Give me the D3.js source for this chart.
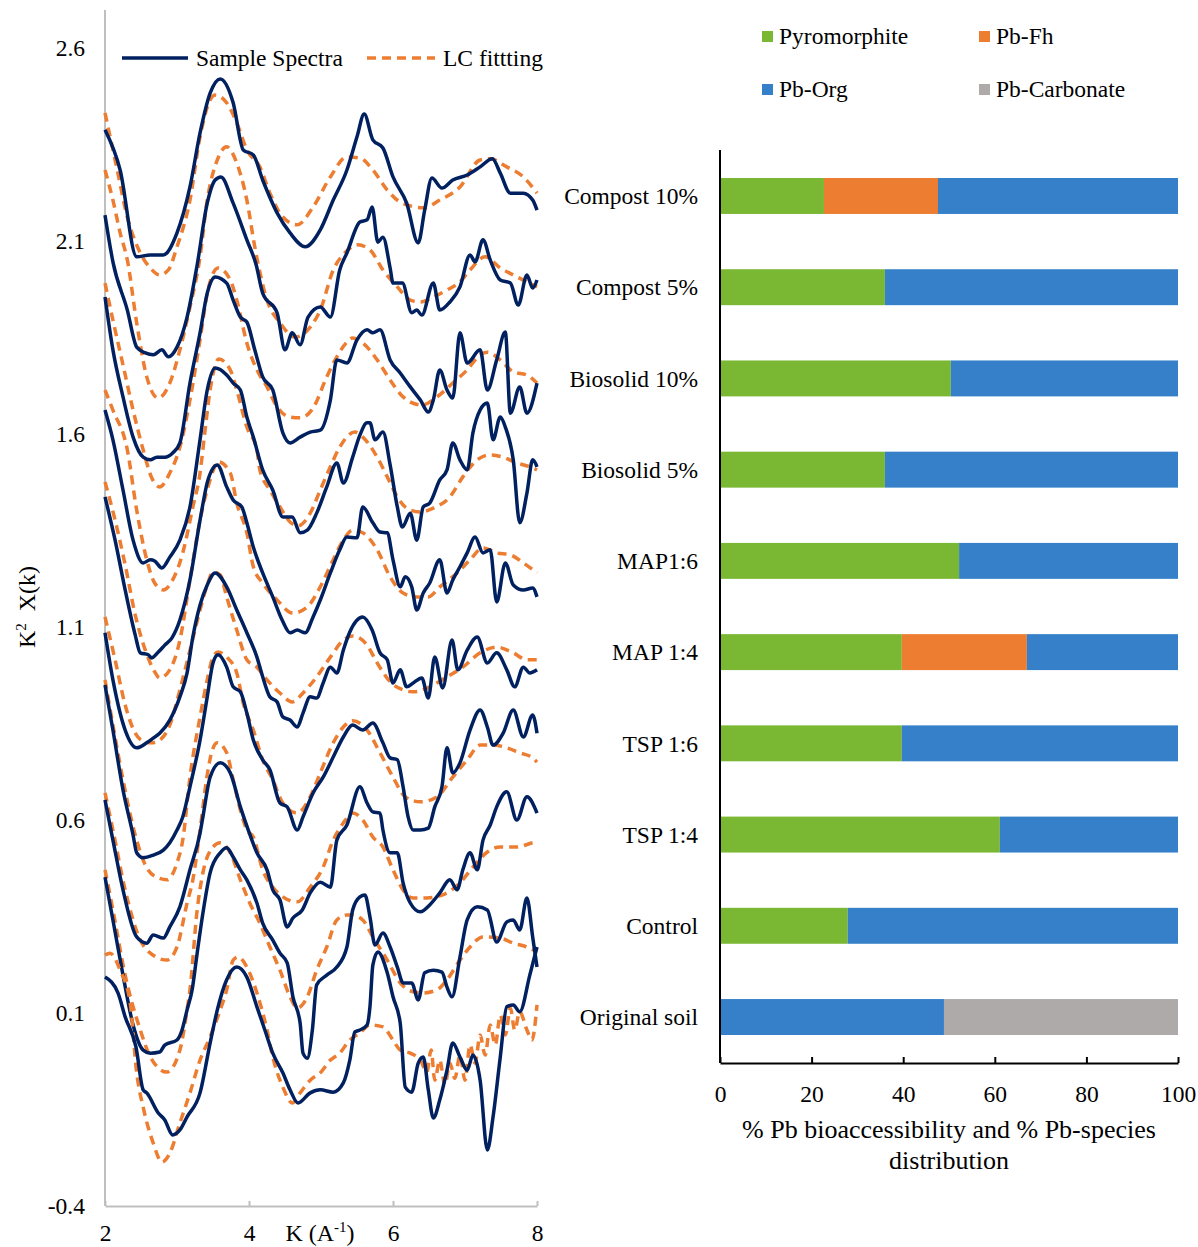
<!DOCTYPE html>
<html>
<head>
<meta charset="utf-8">
<script src="https://cdn.jsdelivr.net/npm/d3@7"></script>
<style>
  body { margin: 0; background: #fff; }
  text { font-family: "Liberation Serif", "Times New Roman", serif; fill: #000; }
</style>
</head>
<body>
<svg id="chart" width="1198" height="1247"></svg>
<script>
// ---- left panel: EXAFS spectra [k, k2chi], top pair first ----
let s1 = [[2.00,2.388],[2.21,2.284],[2.44,2.059],[2.63,2.064],[2.81,2.064],[3.00,2.121],[3.18,2.240],[3.32,2.380],[3.46,2.483],[3.60,2.520],[3.78,2.458],[3.92,2.336],[4.06,2.323],[4.19,2.258],[4.39,2.173],[4.57,2.121],[4.78,2.085],[4.99,2.129],[5.17,2.206],[5.36,2.284],[5.50,2.370],[5.60,2.429],[5.72,2.362],[5.86,2.341],[6.00,2.266],[6.19,2.198],[6.35,2.095],[6.44,2.180],[6.54,2.263],[6.68,2.237],[6.83,2.258],[7.03,2.271],[7.21,2.292],[7.38,2.313],[7.49,2.276],[7.63,2.224],[7.81,2.224],[7.94,2.206],[8.00,2.180]]
let f1 = [[2.00,2.432],[2.17,2.284],[2.31,2.162],[2.49,2.069],[2.63,2.030],[2.76,2.012],[2.88,2.025],[3.00,2.085],[3.18,2.206],[3.32,2.370],[3.46,2.465],[3.53,2.478],[3.69,2.458],[3.83,2.406],[3.97,2.336],[4.15,2.292],[4.29,2.224],[4.47,2.162],[4.67,2.142],[4.89,2.188],[5.13,2.266],[5.36,2.318],[5.54,2.315],[5.72,2.284],[5.92,2.232],[6.10,2.201],[6.42,2.186],[6.65,2.206],[6.93,2.240],[7.21,2.310],[7.35,2.313],[7.58,2.292],[7.81,2.266],[8.00,2.224]]
let s2 = [[2.00,2.167],[2.11,2.046],[2.31,1.921],[2.44,1.825],[2.56,1.810],[2.67,1.805],[2.79,1.818],[2.88,1.800],[3.00,1.825],[3.14,1.903],[3.28,2.038],[3.42,2.198],[3.53,2.258],[3.61,2.266],[3.78,2.198],[3.97,2.103],[4.10,2.038],[4.19,1.965],[4.39,1.914],[4.50,1.818],[4.60,1.862],[4.71,1.831],[4.82,1.903],[4.99,1.929],[5.13,1.903],[5.26,2.025],[5.36,2.069],[5.54,2.149],[5.64,2.155],[5.71,2.188],[5.79,2.097],[5.86,2.110],[5.96,2.030],[6.00,1.991],[6.13,1.991],[6.26,1.914],[6.33,1.921],[6.40,1.908],[6.56,1.991],[6.65,1.921],[6.79,1.942],[6.93,1.981],[7.07,2.064],[7.14,2.046],[7.25,2.103],[7.35,2.051],[7.49,1.999],[7.63,1.991],[7.74,1.934],[7.86,2.012],[7.94,1.978],[8.00,1.999]]
let f2 = [[2.00,2.284],[2.11,2.206],[2.21,2.121],[2.31,2.051],[2.44,1.888],[2.58,1.748],[2.74,1.693],[2.90,1.732],[3.04,1.818],[3.18,1.929],[3.32,2.059],[3.42,2.206],[3.56,2.310],[3.69,2.344],[3.83,2.302],[3.97,2.206],[4.08,2.085],[4.25,1.947],[4.43,1.888],[4.64,1.851],[4.85,1.877],[4.99,1.921],[5.17,2.025],[5.33,2.069],[5.51,2.090],[5.68,2.077],[5.86,2.025],[6.06,1.981],[6.24,1.947],[6.38,1.942],[6.56,1.955],[6.75,1.973],[6.93,1.994],[7.07,2.025],[7.28,2.059],[7.49,2.030],[7.67,2.012],[7.86,1.994],[8.00,1.981]]
let s3 = [[2.00,1.955],[2.11,1.818],[2.25,1.696],[2.39,1.592],[2.53,1.540],[2.63,1.533],[2.72,1.540],[2.83,1.540],[2.94,1.551],[3.04,1.577],[3.18,1.732],[3.32,1.862],[3.42,1.965],[3.53,2.007],[3.69,1.991],[3.78,1.947],[3.88,1.903],[3.97,1.890],[4.08,1.818],[4.19,1.748],[4.33,1.714],[4.47,1.603],[4.57,1.577],[4.71,1.592],[4.85,1.605],[4.99,1.610],[5.13,1.688],[5.22,1.792],[5.36,1.784],[5.50,1.844],[5.64,1.870],[5.72,1.862],[5.82,1.870],[5.96,1.792],[6.10,1.758],[6.24,1.722],[6.38,1.688],[6.49,1.657],[6.56,1.688],[6.65,1.766],[6.75,1.714],[6.83,1.693],[6.93,1.862],[7.03,1.784],[7.21,1.818],[7.31,1.714],[7.44,1.792],[7.56,1.864],[7.63,1.654],[7.76,1.722],[7.86,1.654],[8.00,1.732]]
let f3 = [[2.00,1.991],[2.11,1.895],[2.25,1.779],[2.39,1.662],[2.53,1.559],[2.65,1.486],[2.76,1.463],[2.90,1.499],[3.04,1.566],[3.18,1.688],[3.32,1.844],[3.43,1.973],[3.57,2.030],[3.74,1.999],[3.83,1.947],[3.97,1.836],[4.11,1.766],[4.25,1.722],[4.39,1.670],[4.57,1.644],[4.71,1.642],[4.89,1.667],[5.08,1.748],[5.22,1.800],[5.36,1.838],[5.44,1.849],[5.58,1.836],[5.78,1.792],[5.96,1.740],[6.14,1.696],[6.40,1.675],[6.61,1.696],[6.83,1.732],[7.03,1.766],[7.21,1.805],[7.31,1.812],[7.49,1.792],[7.67,1.761],[7.86,1.753],[8.00,1.732]]
let s4 = [[2.00,1.662],[2.11,1.585],[2.25,1.455],[2.39,1.325],[2.53,1.266],[2.63,1.274],[2.69,1.271],[2.79,1.253],[2.90,1.281],[3.04,1.325],[3.18,1.411],[3.32,1.585],[3.42,1.714],[3.53,1.771],[3.69,1.753],[3.78,1.732],[3.88,1.714],[3.97,1.644],[4.06,1.592],[4.19,1.507],[4.33,1.455],[4.47,1.385],[4.60,1.385],[4.71,1.344],[4.81,1.351],[4.94,1.395],[5.08,1.463],[5.22,1.525],[5.31,1.473],[5.44,1.540],[5.54,1.597],[5.64,1.629],[5.68,1.629],[5.75,1.585],[5.86,1.605],[5.96,1.520],[6.06,1.411],[6.13,1.359],[6.24,1.395],[6.33,1.325],[6.42,1.411],[6.51,1.421],[6.65,1.481],[6.75,1.507],[6.83,1.577],[6.93,1.533],[7.03,1.507],[7.11,1.603],[7.21,1.662],[7.31,1.680],[7.39,1.585],[7.49,1.644],[7.56,1.618],[7.67,1.533],[7.76,1.370],[7.86,1.447],[7.94,1.533],[8.00,1.515]]
let f4 = [[2.00,1.714],[2.11,1.662],[2.31,1.559],[2.44,1.403],[2.58,1.274],[2.69,1.214],[2.81,1.196],[2.94,1.222],[3.08,1.292],[3.22,1.411],[3.32,1.499],[3.39,1.610],[3.46,1.714],[3.58,1.794],[3.74,1.766],[3.83,1.714],[3.97,1.618],[4.11,1.559],[4.15,1.507],[4.29,1.455],[4.43,1.411],[4.57,1.372],[4.68,1.362],[4.85,1.395],[4.99,1.455],[5.13,1.515],[5.26,1.566],[5.47,1.605],[5.58,1.592],[5.78,1.540],[5.92,1.489],[6.06,1.437],[6.19,1.408],[6.38,1.398],[6.56,1.408],[6.79,1.437],[6.97,1.489],[7.17,1.533],[7.35,1.546],[7.53,1.540],[7.72,1.525],[7.90,1.515],[8.00,1.507]]
let s5 = [[2.00,1.437],[2.14,1.325],[2.28,1.196],[2.42,1.079],[2.49,1.033],[2.60,1.028],[2.65,1.020],[2.74,1.035],[2.83,1.053],[2.93,1.072],[3.04,1.118],[3.18,1.222],[3.32,1.377],[3.43,1.481],[3.56,1.520],[3.69,1.463],[3.78,1.429],[3.90,1.411],[3.97,1.370],[4.06,1.307],[4.19,1.240],[4.33,1.178],[4.46,1.118],[4.57,1.085],[4.67,1.092],[4.78,1.085],[4.89,1.126],[4.99,1.170],[5.13,1.240],[5.26,1.300],[5.36,1.333],[5.50,1.331],[5.58,1.411],[5.72,1.370],[5.82,1.346],[5.92,1.344],[6.00,1.274],[6.10,1.204],[6.17,1.230],[6.26,1.204],[6.33,1.144],[6.42,1.188],[6.51,1.214],[6.65,1.274],[6.75,1.188],[6.83,1.222],[6.93,1.256],[7.03,1.292],[7.14,1.333],[7.25,1.292],[7.35,1.300],[7.44,1.165],[7.56,1.266],[7.67,1.209],[7.81,1.196],[7.94,1.201],[8.00,1.178]]
let f5 = [[2.00,1.476],[2.14,1.377],[2.28,1.261],[2.42,1.131],[2.56,1.040],[2.69,0.984],[2.76,0.968],[2.90,0.989],[3.04,1.066],[3.18,1.222],[3.32,1.377],[3.46,1.481],[3.57,1.528],[3.74,1.499],[3.83,1.421],[3.97,1.344],[4.06,1.256],[4.19,1.214],[4.39,1.170],[4.61,1.136],[4.81,1.152],[4.99,1.204],[5.17,1.274],[5.31,1.325],[5.44,1.351],[5.58,1.344],[5.78,1.300],[5.96,1.230],[6.14,1.188],[6.33,1.178],[6.49,1.178],[6.65,1.204],[6.89,1.240],[7.07,1.274],[7.25,1.305],[7.44,1.292],[7.63,1.287],[7.81,1.266],[8.00,1.240]]
let s6 = [[2.00,1.085],[2.11,0.963],[2.28,0.833],[2.44,0.787],[2.58,0.800],[2.67,0.812],[2.76,0.825],[2.90,0.859],[3.04,0.919],[3.14,0.981],[3.22,1.074],[3.32,1.157],[3.42,1.209],[3.53,1.240],[3.69,1.204],[3.83,1.144],[3.97,1.085],[4.11,1.022],[4.19,0.971],[4.29,0.919],[4.39,0.906],[4.47,0.867],[4.57,0.859],[4.67,0.841],[4.75,0.877],[4.85,0.919],[4.94,0.916],[5.03,0.955],[5.13,0.996],[5.22,0.981],[5.31,1.040],[5.40,1.087],[5.58,1.126],[5.71,1.092],[5.82,1.033],[5.92,1.015],[6.00,0.955],[6.10,0.989],[6.19,0.945],[6.28,0.955],[6.40,0.968],[6.49,0.916],[6.58,1.022],[6.69,0.942],[6.82,1.066],[6.90,0.989],[7.03,1.040],[7.17,1.074],[7.31,1.007],[7.44,1.033],[7.58,0.989],[7.69,0.945],[7.81,0.996],[7.90,0.981],[8.00,0.989]]
let f6 = [[2.00,1.126],[2.14,1.015],[2.28,0.898],[2.42,0.825],[2.56,0.802],[2.65,0.800],[2.76,0.807],[2.90,0.846],[3.04,0.937],[3.18,1.040],[3.32,1.144],[3.42,1.209],[3.50,1.243],[3.60,1.235],[3.69,1.178],[3.83,1.092],[3.97,1.015],[4.11,0.996],[4.25,0.963],[4.43,0.929],[4.60,0.906],[4.75,0.929],[4.94,0.971],[5.13,1.022],[5.31,1.066],[5.44,1.077],[5.64,1.053],[5.78,1.007],[5.96,0.958],[6.14,0.937],[6.28,0.932],[6.51,0.945],[6.75,0.971],[6.97,0.996],[7.21,1.033],[7.44,1.048],[7.67,1.033],[7.86,1.015],[8.00,1.015]]
let s7 = [[2.00,0.950],[2.11,0.833],[2.25,0.678],[2.39,0.561],[2.44,0.515],[2.53,0.502],[2.67,0.509],[2.81,0.522],[2.90,0.541],[3.00,0.574],[3.08,0.608],[3.18,0.686],[3.32,0.807],[3.42,0.919],[3.50,1.007],[3.57,1.028],[3.69,0.996],[3.78,0.945],[3.88,0.932],[3.97,0.877],[4.06,0.807],[4.19,0.756],[4.29,0.730],[4.43,0.644],[4.53,0.634],[4.67,0.574],[4.75,0.608],[4.89,0.670],[5.03,0.711],[5.17,0.763],[5.31,0.815],[5.44,0.846],[5.58,0.833],[5.72,0.851],[5.86,0.800],[5.96,0.761],[6.06,0.756],[6.14,0.686],[6.21,0.608],[6.28,0.574],[6.38,0.574],[6.49,0.579],[6.58,0.634],[6.68,0.686],[6.75,0.787],[6.83,0.722],[6.93,0.748],[7.07,0.833],[7.21,0.885],[7.31,0.841],[7.39,0.794],[7.53,0.825],[7.67,0.885],[7.81,0.815],[7.94,0.872],[8.00,0.825]]
let f7 = [[2.00,0.963],[2.11,0.846],[2.25,0.704],[2.42,0.561],[2.58,0.476],[2.74,0.450],[2.86,0.445],[3.00,0.489],[3.08,0.548],[3.18,0.711],[3.32,0.867],[3.42,0.963],[3.50,1.022],[3.57,1.035],[3.69,1.022],[3.83,0.981],[3.92,0.903],[4.06,0.833],[4.19,0.756],[4.33,0.704],[4.47,0.644],[4.67,0.618],[4.85,0.660],[4.99,0.722],[5.17,0.800],[5.31,0.841],[5.44,0.857],[5.64,0.833],[5.82,0.774],[6.00,0.711],[6.17,0.660],[6.38,0.647],[6.61,0.660],[6.83,0.711],[7.03,0.756],[7.21,0.794],[7.39,0.794],[7.58,0.787],[7.76,0.774],[7.94,0.761],[8.00,0.750]]
let s8 = [[2.00,0.652],[2.11,0.548],[2.25,0.419],[2.44,0.297],[2.58,0.281],[2.67,0.302],[2.81,0.294],[2.90,0.323],[3.04,0.375],[3.18,0.471],[3.32,0.566],[3.36,0.608],[3.46,0.711],[3.60,0.748],[3.74,0.722],[3.88,0.634],[3.99,0.574],[4.11,0.515],[4.25,0.471],[4.33,0.419],[4.43,0.393],[4.53,0.323],[4.61,0.346],[4.74,0.367],[4.85,0.411],[4.99,0.439],[5.13,0.426],[5.22,0.548],[5.36,0.587],[5.54,0.686],[5.64,0.644],[5.72,0.621],[5.82,0.618],[5.86,0.574],[5.96,0.515],[6.06,0.515],[6.14,0.437],[6.24,0.385],[6.38,0.362],[6.51,0.380],[6.65,0.411],[6.79,0.445],[6.89,0.419],[6.97,0.471],[7.07,0.515],[7.17,0.471],[7.25,0.548],[7.35,0.587],[7.44,0.634],[7.58,0.673],[7.72,0.600],[7.86,0.660],[8.00,0.618]]
let f8 = [[2.00,0.670],[2.11,0.574],[2.28,0.419],[2.49,0.289],[2.63,0.255],[2.86,0.237],[3.00,0.271],[3.14,0.385],[3.22,0.445],[3.32,0.574],[3.42,0.717],[3.49,0.781],[3.56,0.800],[3.69,0.774],[3.78,0.704],[3.88,0.626],[3.97,0.574],[4.06,0.556],[4.19,0.471],[4.33,0.426],[4.47,0.401],[4.67,0.388],[4.85,0.426],[5.03,0.478],[5.17,0.548],[5.31,0.592],[5.44,0.618],[5.58,0.600],[5.72,0.556],[5.86,0.530],[6.00,0.471],[6.14,0.419],[6.28,0.398],[6.47,0.398],[6.69,0.406],[6.93,0.437],[7.11,0.478],[7.31,0.517],[7.49,0.530],[7.72,0.530],[7.94,0.541],[8.00,0.543]]
let s9 = [[2.00,0.452],[2.11,0.341],[2.25,0.198],[2.39,0.069],[2.53,0.004],[2.63,-0.004],[2.76,-0.001],[2.83,0.017],[3.00,0.030],[3.07,0.056],[3.14,0.108],[3.21,0.160],[3.28,0.255],[3.36,0.359],[3.46,0.463],[3.60,0.515],[3.69,0.528],[3.78,0.504],[3.88,0.471],[3.97,0.445],[4.11,0.385],[4.19,0.333],[4.33,0.289],[4.43,0.255],[4.53,0.230],[4.61,0.142],[4.71,0.074],[4.75,-0.004],[4.81,-0.017],[4.88,0.056],[4.94,0.173],[5.08,0.198],[5.22,0.219],[5.36,0.271],[5.44,0.367],[5.54,0.401],[5.61,0.406],[5.68,0.349],[5.75,0.276],[5.86,0.307],[5.96,0.271],[6.06,0.219],[6.14,0.178],[6.26,0.178],[6.35,0.134],[6.44,0.204],[6.56,0.211],[6.68,0.206],[6.75,0.167],[6.82,0.142],[6.93,0.245],[7.03,0.341],[7.17,0.375],[7.31,0.367],[7.44,0.284],[7.58,0.336],[7.67,0.341],[7.76,0.315],[7.86,0.398],[7.94,0.297],[8.00,0.219]]
let f9 = [[2.00,0.471],[2.11,0.367],[2.28,0.198],[2.49,0.056],[2.63,-0.014],[2.86,-0.053],[3.04,0.004],[3.14,0.108],[3.18,0.160],[3.28,0.367],[3.36,0.463],[3.50,0.530],[3.60,0.541],[3.74,0.515],[3.88,0.445],[4.01,0.385],[4.15,0.333],[4.29,0.271],[4.43,0.211],[4.57,0.142],[4.67,0.113],[4.81,0.142],[4.94,0.211],[5.08,0.271],[5.22,0.341],[5.36,0.354],[5.43,0.354],[5.58,0.341],[5.72,0.297],[5.92,0.237],[6.10,0.178],[6.28,0.155],[6.42,0.152],[6.61,0.160],[6.75,0.186],[6.93,0.237],[7.07,0.271],[7.25,0.297],[7.49,0.294],[7.67,0.281],[7.86,0.271],[8.00,0.258]]
let s10 = [[2.00,0.193],[2.18,0.152],[2.28,0.090],[2.43,0.012],[2.53,-0.099],[2.58,-0.107],[2.74,-0.159],[2.83,-0.177],[2.94,-0.216],[3.04,-0.203],[3.14,-0.169],[3.32,-0.107],[3.46,0.022],[3.56,0.108],[3.69,0.186],[3.83,0.219],[3.97,0.193],[4.11,0.116],[4.22,0.056],[4.33,-0.004],[4.47,-0.055],[4.57,-0.099],[4.68,-0.133],[4.85,-0.107],[4.99,-0.099],[5.17,-0.105],[5.31,-0.081],[5.40,-0.022],[5.47,0.051],[5.54,0.056],[5.64,0.069],[5.68,0.116],[5.72,0.224],[5.79,0.258],[5.92,0.204],[6.00,0.142],[6.10,0.074],[6.17,-0.092],[6.26,-0.105],[6.35,-0.030],[6.42,-0.014],[6.49,-0.099],[6.56,-0.172],[6.65,-0.125],[6.75,-0.048],[6.83,0.022],[6.93,-0.014],[7.03,-0.048],[7.11,-0.009],[7.21,-0.074],[7.31,-0.255],[7.39,-0.169],[7.49,-0.014],[7.58,0.116],[7.67,0.121],[7.76,0.103],[7.90,0.198],[8.00,0.271]]
let f10 = [[2.00,0.250],[2.07,0.255],[2.21,0.211],[2.35,0.126],[2.44,-0.055],[2.53,-0.144],[2.67,-0.237],[2.79,-0.286],[2.90,-0.263],[3.04,-0.185],[3.18,-0.107],[3.32,-0.022],[3.46,0.038],[3.60,0.108],[3.69,0.160],[3.78,0.237],[3.85,0.245],[3.97,0.219],[4.11,0.152],[4.25,0.056],[4.33,-0.014],[4.47,-0.092],[4.60,-0.133],[4.71,-0.107],[4.85,-0.074],[4.99,-0.055],[5.13,-0.022],[5.26,-0.004],[5.40,0.030],[5.54,0.048],[5.68,0.069],[5.86,0.064],[6.00,0.030],[6.10,0.004],[6.24,-0.004],[6.38,-0.022],[6.47,-0.053],[6.53,0.004],[6.58,-0.074],[6.65,-0.022],[6.72,-0.087],[6.79,-0.030],[6.86,-0.069],[6.93,-0.009],[7.00,-0.074],[7.07,0.017],[7.14,-0.030],[7.21,0.043],[7.28,-0.009],[7.35,0.069],[7.42,0.017],[7.49,0.095],[7.56,0.043],[7.63,0.113],[7.69,0.056],[7.76,0.103],[7.86,0.056],[7.93,0.030],[8.00,0.121]]

let sampleSpectra = [s1, s2, s3, s4, s5, s6, s7, s8, s9, s10]
let lcFits = [f1, f2, f3, f4, f5, f6, f7, f8, f9, f10]
let kTicks = [2, 4, 6, 8]
let chiTicks = [2.6, 2.1, 1.6, 1.1, 0.6, 0.1, -0.4]

// ---- right panel: % Pb species ----
let treatments = ['Compost 10%', 'Compost 5%', 'Biosolid 10%', 'Biosolid 5%', 'MAP1:6', 'MAP 1:4', 'TSP 1:6', 'TSP 1:4', 'Control', 'Original soil']
let pyromorphite = [22.7, 36.0, 50.4, 36.0, 52.2, 39.7, 39.7, 61.1, 27.9, 0]
let pbFh = [24.9, 0, 0, 0, 0, 27.3, 0, 0, 0, 0]
let pbOrg = [52.4, 64.0, 49.6, 64.0, 47.8, 33.0, 60.3, 38.9, 72.1, 48.9]
let pbCarbonate = [0, 0, 0, 0, 0, 0, 0, 0, 0, 51.1]
let percentTicks = [0, 20, 40, 60, 80, 100]

let speciesKeys = ['Pyromorphite', 'Pb-Fh', 'Pb-Org', 'Pb-Carbonate']
let speciesColors = ['#7ab733', '#ed7d31', '#3580c9', '#aeaaaa']

let navy = '#002060'
let orange = '#ed7d31'

let svg = d3.select('#chart')

// ===== left panel =====
let xK = d3.scaleLinear().domain([2, 8]).range([105, 537])
let yChi = d3.scaleLinear().domain([-0.4, 2.6]).range([1206, 48])

let line = d3.line()
    .x(d => xK(d[0]))
    .y(d => yChi(d[1]))
    .curve(d3.curveMonotoneX)

let left = svg.append('g')

left.append('line')
    .attr('x1', 105).attr('x2', 105)
    .attr('y1', 10).attr('y2', 1206)
    .attr('stroke', '#bfbfbf').attr('stroke-width', 2)

// hyphen-minus like the original, one decimal
let chiFormat = d => (d < 0 ? '-' : '') + Math.abs(d).toFixed(1)

let yAxisL = d3.axisLeft(yChi)
    .tickValues(chiTicks)
    .tickSize(0)
    .tickPadding(20)
    .tickFormat(chiFormat)

left.append('g')
    .attr('transform', 'translate(105,0)')
    .call(yAxisL)
    .call(g => g.select('.domain').remove())
    .selectAll('text')
    .style('font-size', '23.5px')
    .attr('font-family', null)

let xAxisL = d3.axisBottom(xK)
    .tickValues(kTicks)
    .tickSizeInner(-5)
    .tickSizeOuter(0)
    .tickPadding(18)
    .tickFormat(d3.format('d'))

left.append('g')
    .attr('transform', 'translate(0,1206)')
    .call(xAxisL)
    .call(g => g.select('.domain').attr('stroke', '#bfbfbf').attr('stroke-width', 2))
    .call(g => g.selectAll('.tick line').attr('stroke', '#bfbfbf').attr('stroke-width', 2))
    .selectAll('text')
    .style('font-size', '23.5px')
    .attr('font-family', null)

// fits under, spectra on top of each pair
lcFits.forEach((f, i) => {
    left.append('path')
        .datum(f)
        .attr('d', line)
        .attr('fill', 'none')
        .attr('stroke', orange)
        .attr('stroke-width', 3.5)
        .attr('stroke-dasharray', '9,6')
    left.append('path')
        .datum(sampleSpectra[i])
        .attr('d', line)
        .attr('fill', 'none')
        .attr('stroke', navy)
        .attr('stroke-width', 3.5)
        .attr('stroke-linejoin', 'round')
})

// legend
left.append('line').attr('x1', 122).attr('x2', 188).attr('y1', 58).attr('y2', 58)
    .attr('stroke', navy).attr('stroke-width', 3.5)
left.append('text').attr('x', 196).attr('y', 66).style('font-size', '23.5px').text('Sample Spectra')
left.append('line').attr('x1', 367).attr('x2', 435).attr('y1', 58).attr('y2', 58)
    .attr('stroke', orange).attr('stroke-width', 3.5).attr('stroke-dasharray', '9,6')
left.append('text').attr('x', 443).attr('y', 66).style('font-size', '23.5px').text('LC fittting')

// axis titles
let yTitle = left.append('text')
    .attr('transform', 'translate(35,607) rotate(-90)')
    .attr('text-anchor', 'middle')
    .style('font-size', '24px')
yTitle.append('tspan').text('K')
yTitle.append('tspan').attr('dy', -9).style('font-size', '15px').text('2')
yTitle.append('tspan').attr('dy', 9).attr('dx', 12).text('X(k)')

let xTitle = left.append('text')
    .attr('x', 320).attr('y', 1241)
    .attr('text-anchor', 'middle')
    .style('font-size', '24px')
xTitle.append('tspan').text('K (A')
xTitle.append('tspan').attr('dy', -9).style('font-size', '15px').text('-1')
xTitle.append('tspan').attr('dy', 9).text(')')

// ===== right panel =====
let xPct = d3.scaleLinear().domain([0, 100]).range([720, 1178])
let yCat = d3.scaleBand().domain(treatments).range([150, 1063]).paddingInner(0.606).paddingOuter(0.307)

let table = treatments.map((t, i) => ({
    name: t,
    'Pyromorphite': pyromorphite[i],
    'Pb-Fh': pbFh[i],
    'Pb-Org': pbOrg[i],
    'Pb-Carbonate': pbCarbonate[i]
}))

let stacked = d3.stack().keys(speciesKeys)(table)

let right = svg.append('g')

stacked.forEach((layer, j) => {
    right.append('g')
        .attr('fill', speciesColors[j])
        .selectAll('rect')
        .data(layer.filter(d => d[1] - d[0] > 0))
        .enter()
        .append('rect')
        .attr('x', d => xPct(d[0]))
        .attr('width', d => xPct(d[1]) - xPct(d[0]))
        .attr('y', d => yCat(d.data.name))
        .attr('height', yCat.bandwidth())
})

let xAxisR = d3.axisBottom(xPct)
    .tickValues(percentTicks)
    .tickSizeInner(-6)
    .tickSizeOuter(0)
    .tickPadding(22)

right.append('g')
    .attr('transform', 'translate(0,1063)')
    .call(xAxisR)
    .call(g => g.select('.domain').attr('stroke', '#000').attr('stroke-width', 2))
    .call(g => g.selectAll('.tick line').attr('stroke', '#000').attr('stroke-width', 2))
    .selectAll('text')
    .style('font-size', '23.5px')
    .attr('font-family', null)

right.append('line')
    .attr('x1', 720).attr('x2', 720)
    .attr('y1', 150).attr('y2', 1063)
    .attr('stroke', '#000').attr('stroke-width', 2)

right.append('g')
    .selectAll('text')
    .data(treatments)
    .enter()
    .append('text')
    .attr('x', 698)
    .attr('y', d => yCat(d) + yCat.bandwidth() / 2)
    .attr('dy', '0.35em')
    .attr('text-anchor', 'end')
    .style('font-size', '23.5px')
    .text(d => d)

let xTitleR = right.append('text')
    .attr('x', 949)
    .attr('text-anchor', 'middle')
    .style('font-size', '26px')
xTitleR.append('tspan').attr('x', 949).attr('y', 1138).text('% Pb bioaccessibility and % Pb-species')
xTitleR.append('tspan').attr('x', 949).attr('y', 1169).text('distribution')

// legend
let legendPos = [[762, 31], [979, 31], [762, 84], [979, 84]]
speciesKeys.forEach((k, j) => {
    right.append('rect')
        .attr('x', legendPos[j][0]).attr('y', legendPos[j][1])
        .attr('width', 11).attr('height', 11)
        .attr('fill', speciesColors[j])
    right.append('text')
        .attr('x', legendPos[j][0] + 17).attr('y', legendPos[j][1] + 13)
        .style('font-size', '23.5px')
        .text(k)
})
</script>
</body>
</html>
